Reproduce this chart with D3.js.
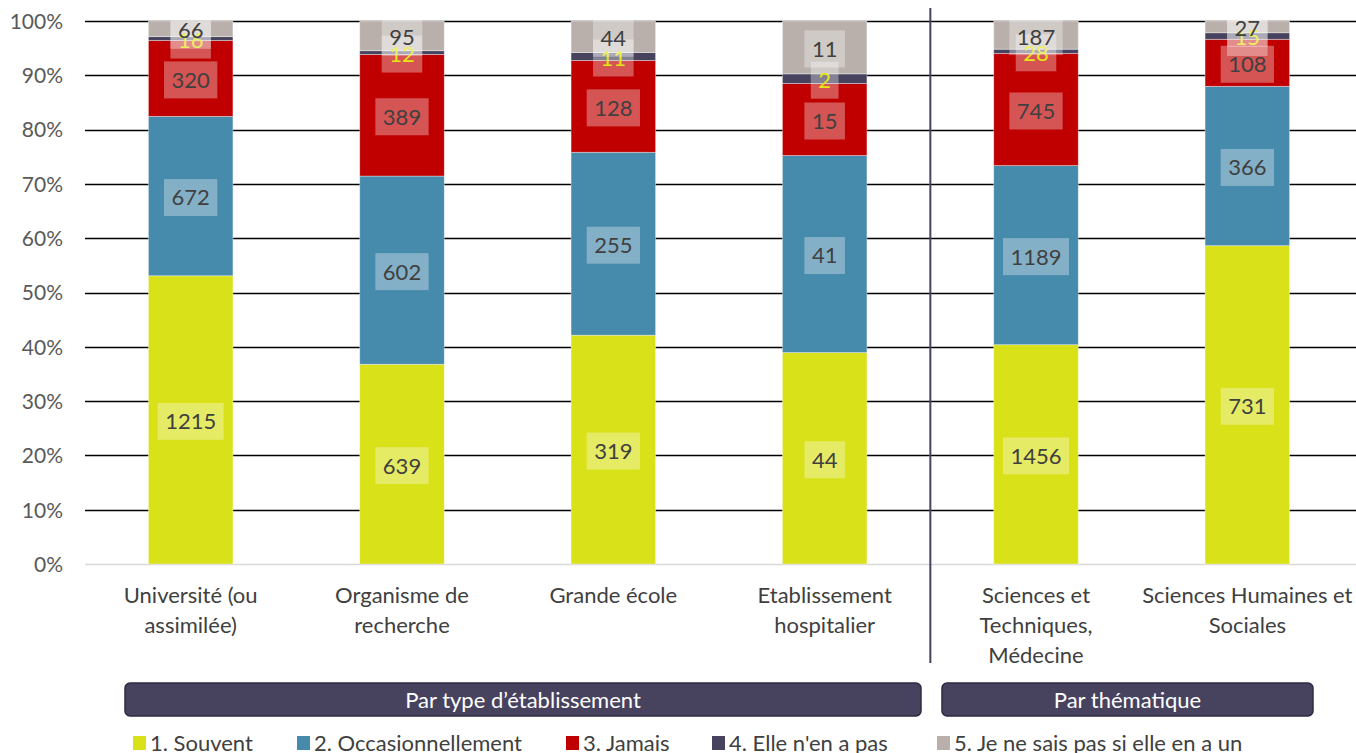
<!DOCTYPE html>
<html>
<head>
<meta charset="utf-8">
<script src="https://cdn.jsdelivr.net/npm/d3@7"></script>
<style>
  body { margin: 0; background: #fff; }
  text { font-family: Lato, "Open Sans", sans-serif; }
</style>
</head>
<body>
<div id="chart"></div>
<script>
// categories (line breaks as shown on the axis)
var categories = [
	"Université (ou\nassimilée)",
	"Organisme de\nrecherche",
	"Grande école",
	"Etablissement\nhospitalier",
	"Sciences et\nTechniques,\nMédecine",
	"Sciences Humaines et\nSociales"
];
var seriesNames = ["1. Souvent", "2. Occasionnellement", "3. Jamais", "4. Elle n'en a pas", "5. Je ne sais pas si elle en a un"];
var souvent = [1215, 639, 319, 44, 1456, 731];
var occasionnellement = [672, 602, 255, 41, 1189, 366];
var jamais = [320, 389, 128, 15, 745, 108];
var pasDe = [16, 12, 11, 2, 28, 15];
var neSaisPas = [66, 95, 44, 11, 187, 27];
var groups = [
	{ name: "Par type d\u2019établissement", from: 0, to: 3 },
	{ name: "Par thématique", from: 4, to: 5 }
];
var yTicks = [0, 0.1, 0.2, 0.3, 0.4, 0.5, 0.6, 0.7, 0.8, 0.9, 1];

var colors = ["#d9e118", "#468aac", "#c00000", "#47435f", "#bab0ab"];
var labelColors = ["#404040", "#404040", "#404040", "#e5e614", "#404040"];

var chart_width = 1356,
	chart_height = 753;

var allSeries = [souvent, occasionnellement, jamais, pasDe, neSaisPas];
var rows = categories.map(function(c, i) {
	var row = { cat: c };
	var total = 0;
	allSeries.forEach(function(s) { total += s[i]; });
	seriesNames.forEach(function(n, k) {
		row[n] = allSeries[k][i] / total;
		row["v" + k] = allSeries[k][i];
	});
	return row;
});

var stacked = d3.stack().keys(seriesNames)(rows);

var svg = d3.select("#chart")
	.append("svg")
		.attr("width", chart_width)
		.attr("height", chart_height);

var x = d3.scaleBand()
	.domain(categories)
	.range([85, 1353])
	.paddingInner(0.6)
	.paddingOuter(0.3);

var y = d3.scaleLinear()
	.domain([0, 1])
	.range([564, 21]);

// gridlines
svg.selectAll("line.grid")
	.data(yTicks)
	.enter()
	.append("line")
	.attr("class", "grid")
	.attr("x1", 85)
	.attr("x2", 1356)
	.attr("y1", function(d) { return Math.round(y(d)) + 0.5; })
	.attr("y2", function(d) { return Math.round(y(d)) + 0.5; })
	.attr("stroke", function(d) { return d === 0 ? "#d9d9d9" : "#000"; })
	.attr("stroke-width", 1.3);

// y axis labels
var yAxis = d3.axisLeft(y)
	.tickValues(yTicks)
	.tickFormat(d3.format(".0%"))
	.tickSize(0)
	.tickPadding(0);
var yg = svg.append("g")
	.attr("transform", "translate(63,0)")
	.call(yAxis);
yg.select(".domain").remove();
yg.selectAll("text")
	.attr("font-family", "Lato, 'Open Sans', sans-serif")
	.attr("font-size", 21)
	.attr("fill", "#595959")
	.attr("dy", "0.35em");

// bars
var layer = svg.selectAll("g.layer")
	.data(stacked)
	.enter()
	.append("g")
	.attr("class", "layer")
	.attr("fill", function(d, i) { return colors[i]; });

layer.selectAll("rect")
	.data(function(d) { return d; })
	.enter()
	.append("rect")
	.attr("x", function(d) { return x(d.data.cat); })
	.attr("y", function(d) { return y(d[1]); })
	.attr("width", x.bandwidth())
	.attr("height", function(d) { return y(d[0]) - y(d[1]); })
	.attr("stroke", "rgba(255,255,255,0.45)")
	.attr("stroke-width", 0.8);

// data labels
stacked.forEach(function(s, k) {
	s.forEach(function(d) {
		var cx = x(d.data.cat) + x.bandwidth() / 2;
		var cy = (y(d[0]) + y(d[1])) / 2 + 1.5;
		var g = svg.append("g");
		var box = g.append("rect")
			.attr("fill", "rgba(255,255,255,0.33)");
		var t = g.append("text")
			.text(d.data["v" + k])
			.attr("x", cx)
			.attr("y", cy)
			.attr("dy", "0.36em")
			.attr("text-anchor", "middle")
			.attr("font-size", 22)
			.attr("fill", labelColors[k]);
		var w = t.node().getComputedTextLength() + 15;
		box.attr("x", cx - w / 2)
			.attr("y", cy - 18.5)
			.attr("width", w)
			.attr("height", 37);
	});
});

// category labels
svg.selectAll("text.cat")
	.data(categories)
	.enter()
	.append("text")
	.attr("class", "cat")
	.attr("text-anchor", "middle")
	.attr("font-size", 22)
	.attr("fill", "#404040")
	.each(function(c) {
		var lines = c.split("\n");
		var el = d3.select(this);
		lines.forEach(function(l, j) {
			el.append("tspan")
				.attr("x", x(c) + x.bandwidth() / 2)
				.attr("y", 603 + j * 30)
				.text(l);
		});
	});

// divider between groups
var divX = (x(categories[3]) + x.bandwidth() + x(categories[4])) / 2;
svg.append("line")
	.attr("x1", divX)
	.attr("x2", divX)
	.attr("y1", 8)
	.attr("y2", 663)
	.attr("stroke", "#47435f")
	.attr("stroke-width", 2);

// group boxes
groups.forEach(function(gr, i) {
	var x0 = i === 0 ? 125 : 942;
	var x1 = i === 0 ? 921 : 1313;
	svg.append("rect")
		.attr("x", x0)
		.attr("y", 683)
		.attr("width", x1 - x0)
		.attr("height", 33)
		.attr("rx", 5)
		.attr("fill", "#47435f")
		.attr("stroke", "#2e2b40")
		.attr("stroke-width", 1.5);
	svg.append("text")
		.attr("x", (x0 + x1) / 2)
		.attr("y", 700)
		.attr("dy", "0.35em")
		.attr("text-anchor", "middle")
		.attr("font-size", 22)
		.attr("fill", "#fff")
		.text(gr.name);
});

// legend
var legendX = [133, 297, 566, 712, 937];
var leg = svg.selectAll("g.leg")
	.data(seriesNames)
	.enter()
	.append("g")
	.attr("class", "leg")
	.attr("transform", function(d, i) { return "translate(" + legendX[i] + ",736)"; });
leg.append("rect")
	.attr("width", 13)
	.attr("height", 14)
	.attr("fill", function(d, i) { return colors[i]; });
leg.append("text")
	.attr("x", 17)
	.attr("y", 15)
	.attr("font-size", 22)
	.attr("fill", "#404040")
	.text(function(d) { return d; });
</script>
</body>
</html>
